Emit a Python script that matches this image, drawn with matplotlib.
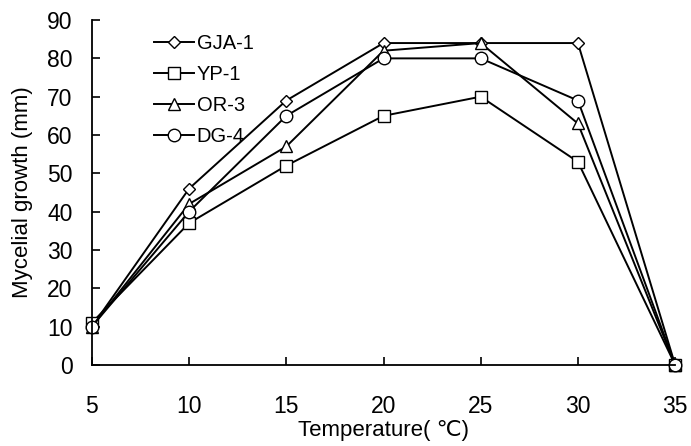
import matplotlib
matplotlib.use("Agg")
import matplotlib.pyplot as plt

plt.rcParams['font.family'] = ['Liberation Sans', 'DejaVu Sans']

# data
temperature = [5, 10, 15, 20, 25, 30, 35]
gja1 = [10, 46, 69, 84, 84, 84, 0]
yp1 = [11, 37, 52, 65, 70, 53, 0]
or3 = [10, 42, 57, 82, 84, 63, 0]
dg4 = [10, 40, 65, 80, 80, 69, 0]
series_names = ['GJA-1', 'YP-1', 'OR-3', 'DG-4']
x_ticks = [5, 10, 15, 20, 25, 30, 35]
y_ticks = [0, 10, 20, 30, 40, 50, 60, 70, 80, 90]

fig = plt.figure(figsize=(6.91, 4.46), dpi=100)
ax = fig.add_axes([0.133, 0.182, 0.844, 0.773])

markers = ['D', 's', '^', 'o']
sizes = [6, 8.5, 8.5, 9]
for vals, name, m, ms in zip([gja1, yp1, or3, dg4], series_names, markers, sizes):
    ax.plot(temperature, vals, color='black', lw=1.4, marker=m, ms=ms,
            mfc='white', mec='black', mew=1.0, label=name, clip_on=False)

ax.set_xlim(5, 35)
ax.set_ylim(0, 90)
ax.set_xticks(x_ticks)
ax.set_yticks(y_ticks)
ax.spines['top'].set_visible(False)
ax.spines['right'].set_visible(False)
ax.spines['left'].set_linewidth(1.3)
ax.spines['bottom'].set_linewidth(1.3)
ax.tick_params(axis='x', direction='in', length=6, width=1.2, pad=22, labelsize=16.5)
ax.tick_params(axis='y', direction='in', length=6, width=1.2, pad=14, labelsize=16.5)

ax.set_xlabel('Temperature( \u2103)', fontsize=16, labelpad=1)
ax.set_ylabel('Mycelial growth (mm)', fontsize=16, labelpad=10)

ax.legend(loc='upper left', bbox_to_anchor=(0.085, 0.995), frameon=False,
          fontsize=14.5, handlelength=2.0, handletextpad=0.15, labelspacing=0.6,
          borderaxespad=0.2)

fig.savefig('out.png', dpi=100)
